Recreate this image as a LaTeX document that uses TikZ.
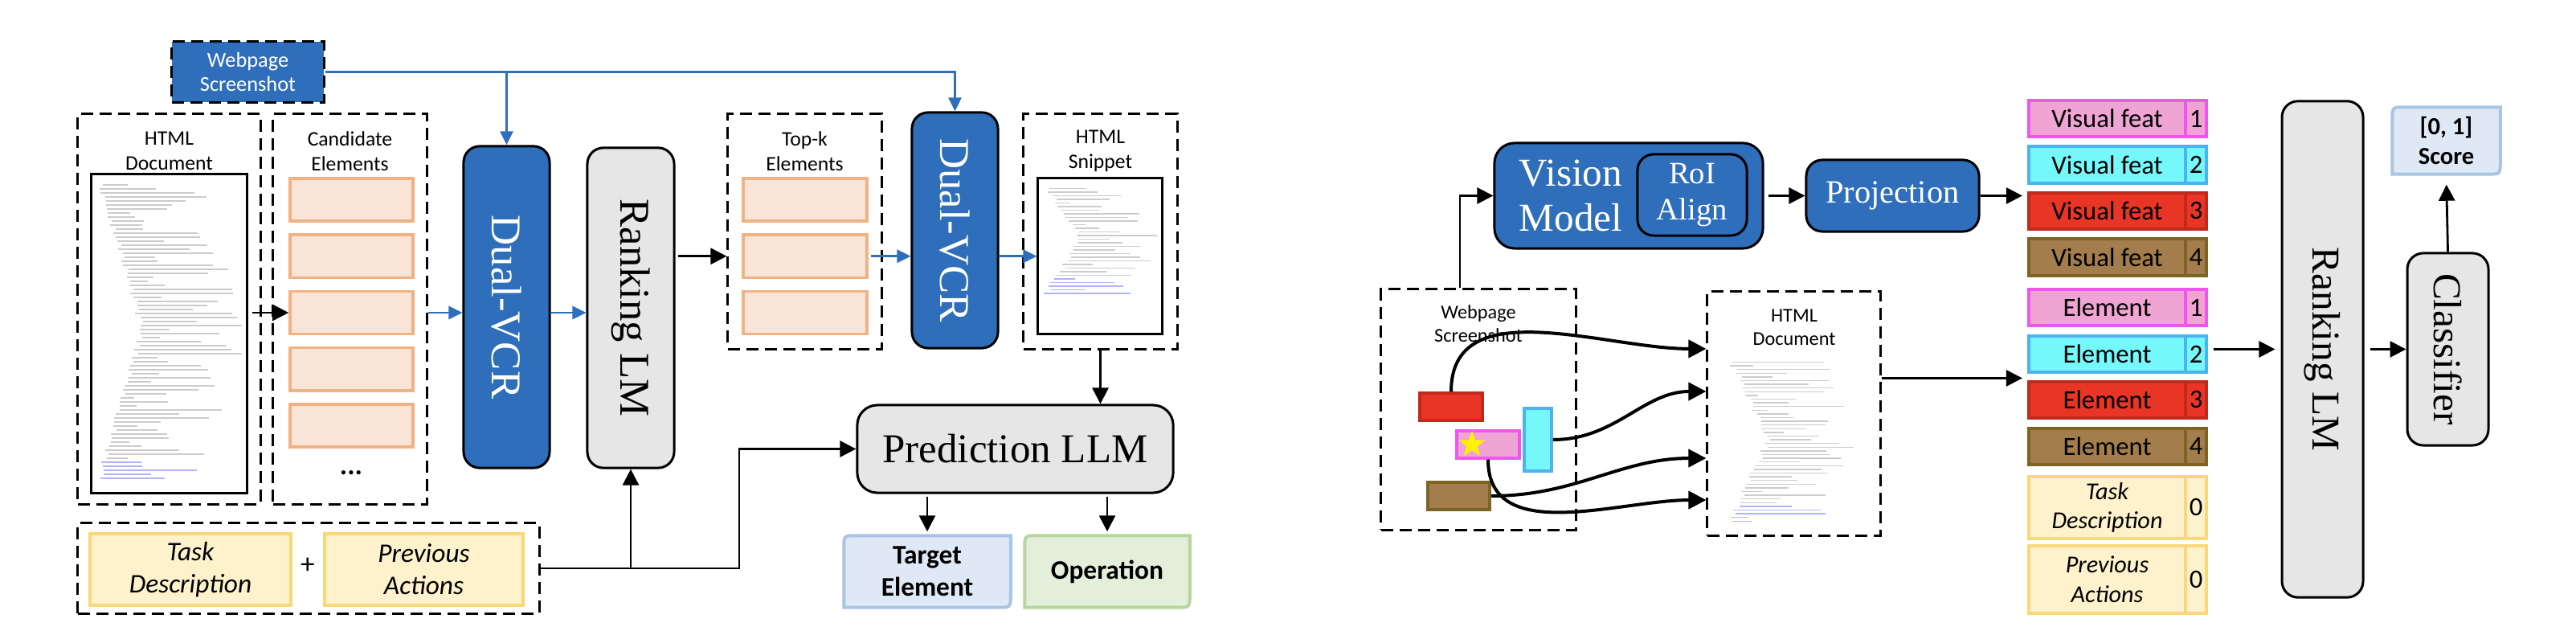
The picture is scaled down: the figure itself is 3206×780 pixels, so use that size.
\documentclass[tikz,border=0pt]{standalone}
\usepackage{fontspec}
\setmainfont{Liberation Serif}
\newfontfamily\carl{Carlito}
\usepackage{graphicx}
\usetikzlibrary{arrows.meta, shapes.geometric, positioning}

\definecolor{vcrblue}{HTML}{2F6EBA}
\definecolor{llmgray}{HTML}{E6E6E6}
\definecolor{candfill}{HTML}{F8E5D8}
\definecolor{candline}{HTML}{F0B283}
\definecolor{taskfill}{HTML}{FDF2CC}
\definecolor{taskline}{HTML}{F8D878}
\definecolor{tgtfill}{HTML}{DFE9F5}
\definecolor{tgtline}{HTML}{A8C5E6}
\definecolor{opfill}{HTML}{E3EFDA}
\definecolor{opline}{HTML}{B6D69E}
\definecolor{pinkf}{HTML}{F0A4D4}
\definecolor{pinkl}{HTML}{F055F0}
\definecolor{cyanf}{HTML}{74F8FA}
\definecolor{cyanl}{HTML}{4EB2EE}
\definecolor{redf}{HTML}{E83526}
\definecolor{redl}{HTML}{C1291C}
\definecolor{brownf}{HTML}{A37D4B}
\definecolor{brownl}{HTML}{7D6324}

% fake lines of html code: x, y, width, lines, spacing
\newcommand\fakecode[5]{%
  \foreach \k in {1,...,#4}{%
    \pgfmathsetmacro\ind{6+0.28*#3*(1-abs(2*\k/#4-1))+8*rnd}%
    \pgfmathsetmacro\len{min(15+0.6*#3*rnd,#3-\ind-6)}%
    \pgfmathtruncatemacro\blu{\k>#4-5}%
    \ifnum\blu=1 \def\cc{blue!30}\else\def\cc{black!20}\fi
    \draw[line width=0.14mm, draw=\cc] (#1+\ind,#2+8+\k*#5) -- ++(\len,0);
  }}

% box with two rounded corners on a diagonal
\newcommand\diagrnd[3]{%
  \filldraw[fill=#2, draw=#3, line width=0.4mm]
    ([yshift=-1.6mm]#1.north west) .. controls (#1.north west) .. ([xshift=1.6mm]#1.north west)
    -- (#1.north east) -- ([yshift=1.6mm]#1.south east)
    .. controls (#1.south east) .. ([xshift=-1.6mm]#1.south east)
    -- (#1.south west) -- cycle;}

\begin{document}
\begin{tikzpicture}[x=0.01cm, y=-0.01cm,
  dbox/.style={draw, line width=0.3mm, dash pattern=on 1.5mm off 0.8mm, inner sep=0pt},
  solidbox/.style={draw, line width=0.3mm, inner sep=0pt},
  model/.style={draw, line width=0.3mm, rounded corners=2mm, inner sep=0pt, font=\fontsize{15}{17}\selectfont},
  bluemodel/.style={model, fill=vcrblue, text=white},
  graymodel/.style={model, fill=llmgray},
  boxtitle/.style={font=\carl\fontsize{7.3}{8.8}\selectfont, align=center, inner sep=0pt},
  cand/.style={draw=candline, fill=candfill, line width=0.35mm, minimum width=15.3mm, minimum height=5.3mm, inner sep=0pt},
  taskbox/.style={draw=taskline, fill=taskfill, line width=0.4mm, minimum height=8.9mm, align=center, inner sep=0pt, font=\carl\itshape\fontsize{9.5}{11.4}\selectfont},
  outtext/.style={align=center, inner sep=0pt, font=\carl\bfseries\fontsize{9.5}{11.4}\selectfont},
  regbox/.style={line width=0.35mm, inner sep=0pt},
  featcell/.style={line width=0.4mm, minimum width=19.5mm, minimum height=4.5mm, inner sep=0pt, font=\carl\fontsize{9.3}{11}\selectfont},
  numcell/.style={featcell, minimum width=2.6mm},
  arr/.style={-{Triangle[length=2mm,width=2mm]}, line width=0.28mm},
  barr/.style={-{Triangle[length=1.7mm,width=1.6mm]}, line width=0.28mm, draw=vcrblue},
  carr/.style={-{Triangle[length=2.2mm,width=2.2mm]}, line width=0.4mm}]

\useasboundingbox (0,0) rectangle (3206,780);
\pgfmathsetseed{7}

% ---- left: pipeline ----
\node[dbox, fill=vcrblue, minimum width=18.9mm, minimum height=7.5mm, text=white, align=center, font=\carl\fontsize{7.5}{8.3}\selectfont] (shotL) at (308.5,89.5) {Webpage\\Screenshot};

\node[dbox, minimum width=22.7mm, minimum height=48.5mm] (docbox) at (210.5,384.5) {};
\node[boxtitle] (doctitle) at (210.5,188) {HTML\\Document};
\node[solidbox, fill=white, minimum width=19.3mm, minimum height=39.6mm] (docimg) at (210.5,415) {};
\fakecode{114}{217}{193}{74}{5}

\node[dbox, minimum width=19.1mm, minimum height=48.5mm] (candbox) at (435.5,384.5) {};
\node[boxtitle] (candtitle) at (435.5,188) {Candidate\\Elements};
\foreach \i in {1,...,5}
  \node[cand] (cand\i) at (437.5,{248.5+70.25*(\i-1)}) {};
\node[font=\carl\bfseries\fontsize{10}{12}\selectfont] (candmore) at (437,588) {...};

\node[bluemodel, minimum width=10.7mm, minimum height=40mm] (dvcr1) at (630.5,382) {\rotatebox{-90}{Dual-VCR}};
\node[graymodel, minimum width=10.8mm, minimum height=39.8mm] (rank) at (785,383) {\rotatebox{-90}{Ranking LM}};

\node[dbox, minimum width=19.1mm, minimum height=29.2mm] (topbox) at (1001.5,288) {};
\node[boxtitle] (toptitle) at (1001.5,188) {Top-k\\Elements};
\foreach \i in {1,2,3}
  \node[cand, minimum width=15.4mm] (top\i) at (1002,{248.5+70.25*(\i-1)}) {};

\node[bluemodel, minimum width=10.7mm, minimum height=29.3mm] (dvcr2) at (1188.5,286.5) {\rotatebox{-90}{Dual-VCR}};

\node[dbox, minimum width=19.1mm, minimum height=29.2mm] (snipbox) at (1369.5,288) {};
\node[boxtitle] (sniptitle) at (1369.5,188) {HTML\\Snippet};
\node[solidbox, fill=white, minimum width=15.4mm, minimum height=19.3mm] (snipimg) at (1369,318.5) {};
\fakecode{1292}{222}{154}{30}{4.5}

\node[graymodel, minimum width=39.3mm, minimum height=10.9mm, rounded corners=2.5mm, font=\fontsize{14.5}{16}\selectfont] (pred) at (1263.5,558.5) {Prediction LLM};

\node[minimum width=20.6mm, minimum height=8.8mm] (tgt) at (1154,711) {};
\diagrnd{tgt}{tgtfill}{tgtline}
\node[outtext] (tgttxt) at (tgt) {Target\\Element};
\node[minimum width=20.4mm, minimum height=8.8mm] (op) at (1378,711) {};
\diagrnd{op}{opfill}{opline}
\node[outtext] (optxt) at (op) {Operation};

\node[dbox, minimum width=57.4mm, minimum height=11.2mm] (inbox) at (384,707) {};
\node[taskbox, minimum width=25mm] (task) at (237,708.5) {Task\\Description};
\node[taskbox, minimum width=24.7mm] (prev) at (527.5,708.5) {Previous\\Actions};
\node[font=\carl\fontsize{10}{12}\selectfont] (plus) at (383,704) {+};

\coordinate (bend) at (920,0);

\draw[barr] (shotL.east) -| (dvcr1.north);
\draw[barr] (shotL.east) -| (dvcr2.north);
\draw[arr, shorten <=0.5mm] (docimg.east |- cand3) -- (cand3.west);
\draw[barr] (candbox.east |- cand3) -- (dvcr1.west |- cand3);
\draw[barr] (dvcr1.east |- cand3) -- (rank.west |- cand3);
\draw[arr, shorten <=0.3mm] (rank.east |- top2) -- (topbox.west |- top2);
\draw[barr, shorten <=0.3mm] (top2.east) -- (dvcr2.west |- top2);
\draw[barr] (dvcr2.east |- top2) -- (snipimg.west |- top2);
\draw[arr] (snipbox.south) -- (snipbox.south |- pred.north);
\draw[arr] (inbox.east) -- (inbox.east -| bend) |- (pred.west);
\draw[arr] (inbox.east -| rank.south) -- (rank.south);
\draw[arr, shorten <=0.3mm, shorten >=0.5mm] (tgt.north |- pred.south) -- (tgt.north);
\draw[arr, shorten <=0.3mm, shorten >=0.5mm] (op.north |- pred.south) -- (op.north);

% ---- right: Dual-VCR ----
\node[bluemodel, minimum width=33.4mm, minimum height=13.1mm, rounded corners=2.5mm] (vision) at (2027,243.5) {};
\node[text=white, align=center, font=\fontsize{14}{15.7}\selectfont] (vmtxt) at (1955,243.5) {Vision\\Model};
\node[bluemodel, minimum width=13.6mm, minimum height=10.1mm, align=center, font=\fontsize{11}{13}\selectfont] (roi) at (2106,242.5) {RoI\\Align};
\node[bluemodel, minimum width=21.5mm, minimum height=8.9mm, font=\fontsize{11.5}{13}\selectfont] (proj) at (2355.5,243.5) {Projection};

\node[dbox, minimum width=24.2mm, minimum height=29.9mm] (shotR) at (1840,509.5) {};
\node[boxtitle, font=\carl\fontsize{6.9}{8.2}\selectfont] (shotRtitle) at (1840,403) {Webpage\\Screenshot};
\node[regbox, draw=redl, fill=redf, minimum width=7.8mm, minimum height=3.4mm] (red) at (1806,506) {};
\node[regbox, draw=pinkl, fill=pinkf, minimum width=7.8mm, minimum height=3.4mm] (pink) at (1852,553) {};
\node[regbox, draw=cyanl, fill=cyanf, minimum width=3.4mm, minimum height=7.8mm] (cyan) at (1914,547) {};
\node[regbox, draw=brownl, fill=brownf, minimum width=7.7mm, minimum height=3.4mm] (brown) at (1815.5,617) {};
\node[star, star points=5, star point ratio=2.4, fill=yellow, inner sep=0pt, minimum size=3.4mm] (goal) at (1832,553) {};

\node[dbox, minimum width=21.5mm, minimum height=30.3mm] (docR) at (2232.5,514.5) {};
\node[boxtitle, font=\carl\fontsize{6.9}{8.2}\selectfont] (docRtitle) at (2233,407) {HTML\\Document};
\fakecode{2143}{438}{171}{44}{4.6}

\foreach \nm/\yy/\txt/\nr/\fc/\lc in {vf1/147.5/Visual feat/1/pinkf/pinkl, vf2/205/Visual feat/2/cyanf/cyanl,
    vf3/262.5/Visual feat/3/redf/redl, vf4/320/Visual feat/4/brownf/brownl,
    el1/382.5/Element/1/pinkf/pinkl, el2/440.5/Element/2/cyanf/cyanl,
    el3/497.5/Element/3/redf/redl, el4/555.5/Element/4/brownf/brownl}{
  \node[featcell, draw=\lc, fill=\fc] (\nm) at (2622.5,\yy) {\txt};
  \node[numcell, draw=\lc, fill=\fc] (n\nm) at (2733,\yy) {\nr};
}
\node[featcell, draw=taskline, fill=taskfill, minimum height=7.7mm, align=center, font=\carl\itshape\fontsize{8.6}{10}\selectfont] (td) at (2622.5,631.5) {Task\\Description};
\node[numcell, draw=taskline, fill=taskfill, minimum height=7.7mm] (ntd) at (2733,631.5) {0};
\node[featcell, draw=taskline, fill=taskfill, minimum height=8.4mm, align=center, font=\carl\itshape\fontsize{8.6}{10.5}\selectfont] (pa) at (2622.5,721) {Previous\\Actions};
\node[numcell, draw=taskline, fill=taskfill, minimum height=8.4mm] (npa) at (2733,721) {0};

\node[graymodel, minimum width=10.1mm, minimum height=61.7mm, font=\fontsize{14}{16}\selectfont] (rankR) at (2890.5,434.5) {\rotatebox{-90}{Ranking LM}};
\node[graymodel, minimum width=10.1mm, minimum height=23.9mm, font=\fontsize{14}{16}\selectfont] (cls) at (3046.5,434.5) {\rotatebox{-90}{Classifier}};
\node[minimum width=13.3mm, minimum height=8.2mm] (score) at (3044.5,175) {};
\diagrnd{score}{tgtfill}{tgtline}
\node[outtext, font=\carl\bfseries\fontsize{8.7}{10.4}\selectfont] (scoretxt) at (score) {[0, 1]\\Score};

\coordinate (in1) at ([yshift=8.05mm]docR.west);
\coordinate (in2) at ([yshift=2.75mm]docR.west);
\coordinate (in3) at ([yshift=-5.55mm]docR.west);
\coordinate (in4) at ([yshift=-10.75mm]docR.west);
\coordinate (docout) at ([yshift=4.4mm]docR.east);

\draw[carr] (red.north) to[out=90, in=180] (in1);
\draw[carr] (cyan.east) to[out=0, in=180] (in2);
\draw[carr] (brown.east) to[out=0, in=180] (in3);
\draw[carr] (pink.south) to[out=-90, in=180] (in4);

\draw[arr] ([xshift=-2.3mm]shotR.north) |- (vision.west);
\draw[arr, shorten <=0.5mm] (vision.east) -- (proj.west);
\draw[arr, shorten >=0.6mm] (proj.east) -- (proj.east -| vf3.west);
\draw[arr, shorten >=0.6mm] (docout) -- (docout -| el3.west);
\draw[arr, shorten <=0.7mm, shorten >=0.7mm] (cls -| nel2.east) -- (cls -| rankR.west);
\draw[arr, shorten <=0.7mm] (rankR.east |- cls) -- (cls.west);
\draw[arr, shorten >=1.3mm] (cls.north) -- (score.south);
\end{tikzpicture}
\end{document}
